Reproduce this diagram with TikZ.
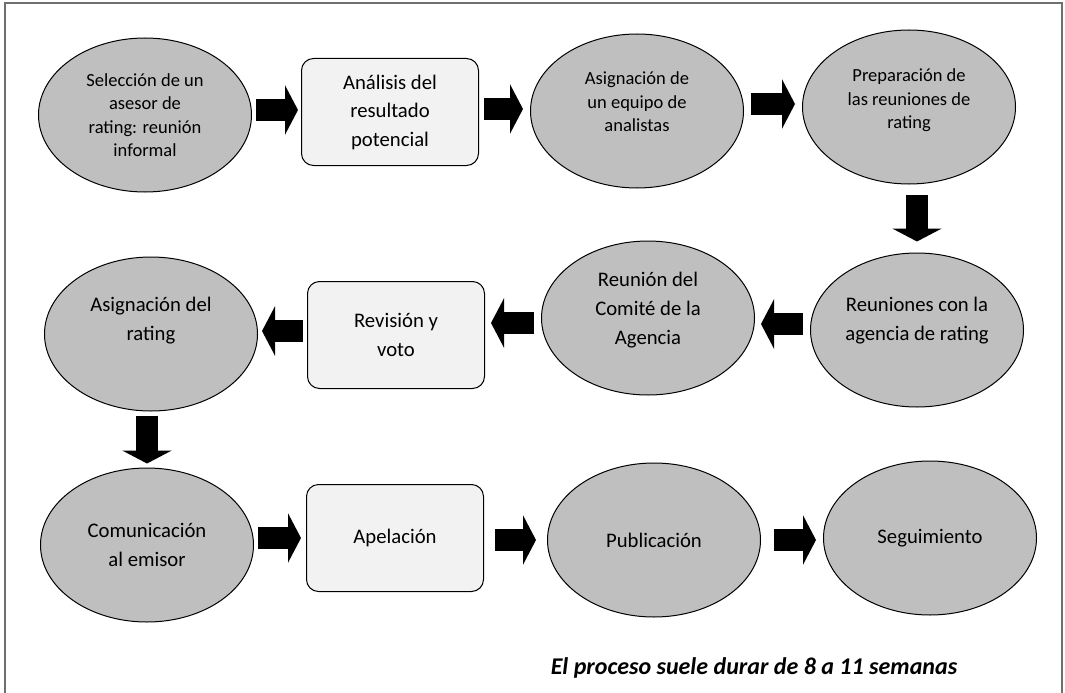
\documentclass[tikz,border=0pt]{standalone}
\usepackage{fontspec}
\setmainfont{Carlito}
\usetikzlibrary{shapes.geometric,arrows.meta,calc}
\definecolor{fasegris}{HTML}{BFBFBF}
\definecolor{cajaclara}{HTML}{F2F2F2}
\definecolor{marco}{HTML}{6F6F6F}
\begin{document}
\begin{tikzpicture}[x=1pt,y=-1pt,
    fase/.style={ellipse,draw,line width=1pt,fill=fasegris,minimum width=213pt,minimum height=154pt,inner sep=0pt,align=center,font=\fontsize{20.7}{29}\selectfont},
    fasechica/.style={fase,font=\fontsize{18.5}{23.5}\selectfont},
    caja/.style={rectangle,rounded corners=12pt,draw,line width=1pt,fill=cajaclara,minimum width=177pt,minimum height=107pt,inner sep=0pt,align=center,font=\fontsize{20.7}{28.5}\selectfont},
    subir/.style={text depth=#1},
    flecha/.style={-{Triangle[length=13pt,width=49pt]},line width=22pt}]
  \useasboundingbox (0,0) rectangle (1065,693);
  \draw[marco,line width=1.5pt] (5,693) -- (5,3) -- (1062,3) -- (1062,693);
  % primera fila
  \node[fasechica] (seleccion) at (145,115) {Selección de un\\asesor de\\rating: reunión\\informal};
  \node[caja] (analisis) at (390,112) {Análisis del\\resultado\\potencial};
  \node[fasechica,subir=18pt] (asignacion) at (637,111) {Asignación de\\un equipo de\\analistas};
  \node[fasechica,subir=16pt] (preparacion) at (909,107) {Preparación de\\las reuniones de\\rating};
  % segunda fila
  \node[fase,subir=22pt] (reuniones) at (917,330) {Reuniones con la\\agencia de rating};
  \node[fase,subir=20pt] (comite) at (648,318) {Reunión del\\Comité de la\\Agencia};
  \node[caja] (revision) at (396,335) {Revisión y\\voto};
  \node[fase,subir=30pt] (rating) at (151,334) {Asignación del\\rating};
  % tercera fila
  \node[fase] (comunicacion) at (147,545) {Comunicación\\al emisor};
  \node[caja] (apelacion) at (395,538) {Apelación};
  \node[fase] (publicacion) at (654,540) {Publicación};
  \node[fase] (seguimiento) at (930,538) {Seguimiento};
  \node[font=\fontsize{24}{28}\selectfont\bfseries\itshape] (duracion) at (754,668) {El proceso suele durar de 8 a 11 semanas};
  % flechas
  \draw[flecha] ($(analisis.west -| seleccion.east)+(4,-2)$) -- ($(analisis.west)+(-3,-2)$);
  \draw[flecha] ($(analisis.east)+(5,-3)$) -- ($(analisis.east -| asignacion.west)+(-7,-3)$);
  \draw[flecha] ($(asignacion.east |- preparacion.west)+(7,-3)$) -- ($(preparacion.west)+(-7,-3)$);
  \draw[flecha] ($(preparacion.south -| reuniones.north)+(0,10)$) -- ($(reuniones.north)+(0,-11)$);
  \draw[flecha] ($(reuniones.west)+(-7,-6)$) -- ($(reuniones.west -| comite.east)+(6,-6)$);
  \draw[flecha] ($(comite.west)+(-7,5)$) -- ($(comite.west -| revision.east)+(6,5)$);
  \draw[flecha] ($(revision.west)+(-4,-4)$) -- ($(revision.west -| rating.east)+(4,-4)$);
  \draw[flecha] ($(rating.south -| comunicacion.north)+(0,4)$) -- ($(comunicacion.north)+(0,-4)$);
  \draw[flecha] ($(comunicacion.east |- apelacion.west)+(4,0)$) -- ($(apelacion.west)+(-5,0)$);
  \draw[flecha] ($(apelacion.east)+(11,2)$) -- ($(apelacion.east -| publicacion.west)+(-11,2)$);
  \draw[flecha] ($(publicacion.east |- seguimiento.west)+(13,2)$) -- ($(seguimiento.west)+(-7,2)$);
\end{tikzpicture}
\end{document}
